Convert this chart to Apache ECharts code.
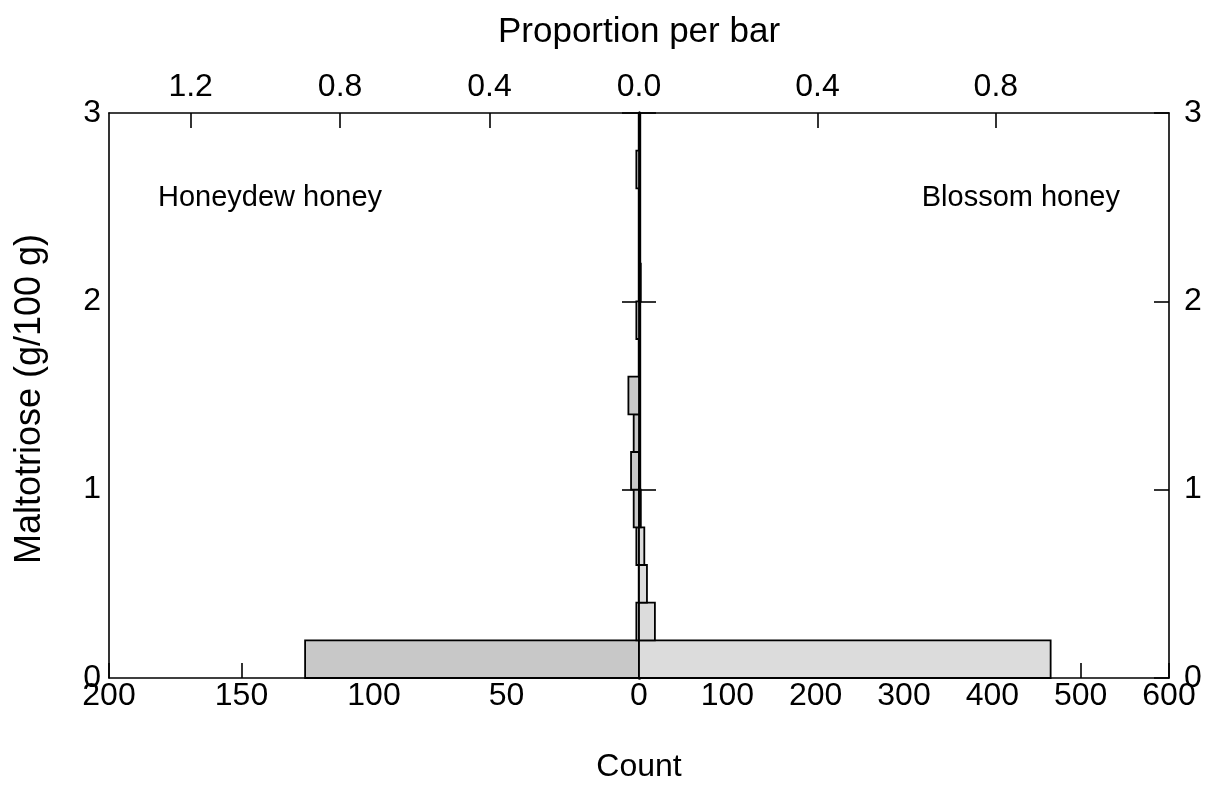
<!DOCTYPE html>
<html>
<head>
<meta charset="utf-8">
<script src="https://cdn.jsdelivr.net/npm/echarts@6/dist/echarts.min.js"></script>
<style>
  html, body { margin: 0; padding: 0; background: #ffffff; }
  #chart { width: 1218px; height: 786px; }
</style>
</head>
<body>
<div id="chart"></div>
<script>
// Maltotriose classes (g/100 g): lower edge of each 0.2-wide bin
const binLower = [0.0, 0.2, 0.4, 0.6, 0.8, 1.0, 1.2, 1.4, 1.6, 1.8, 2.0, 2.2, 2.4, 2.6];
const binWidth = 0.2;
// Number of samples per bin
const honeydewCounts = [126, 1, 0, 1, 2, 3, 2, 4, 0, 1, 0, 0, 0, 1];
const blossomCounts  = [466, 18, 9, 6, 2, 1, 0, 0, 1, 0, 2, 0, 0, 0];
// Axis ranges and tick steps
const leftCountMax = 200, leftCountStep = 50;
const rightCountMax = 600, rightCountStep = 100;
const propStep = 0.4;
const yMax = 3, yStep = 1;

const FONT = "'Liberation Sans', Arial, Helvetica, sans-serif";
const INK = '#000000';
const TICK_FONT = 32;
const TITLE_FONT = 32;

const total = arr => arr.reduce((a, b) => a + b, 0);
const honeydewTotal = total(honeydewCounts);
const blossomTotal = total(blossomCounts);

function binData(counts) {
  const out = [];
  counts.forEach((c, i) => { if (c > 0) out.push([c, binLower[i], binLower[i] + binWidth]); });
  return out;
}

function histRenderer(fill) {
  return function (params, api) {
    const a = api.coord([0, api.value(1)]);
    const b = api.coord([api.value(0), api.value(2)]);
    return {
      type: 'rect',
      shape: {
        x: Math.min(a[0], b[0]), y: Math.min(a[1], b[1]),
        width: Math.abs(b[0] - a[0]), height: Math.abs(b[1] - a[1])
      },
      style: { fill: fill, stroke: INK, lineWidth: 1.8 }
    };
  };
}

const lineStyle = { color: INK, width: 1.6 };
const labelStyle = { color: INK, fontSize: TICK_FONT, fontFamily: FONT };

function countAxis(grid, max, step, inverse, hideZero) {
  return {
    type: 'value', gridIndex: grid, position: 'bottom', min: 0, max: max, interval: step,
    inverse: inverse,
    axisLine: { show: true, onZero: false, lineStyle: lineStyle },
    axisTick: { show: true, inside: true, length: 15, lineStyle: lineStyle },
    axisLabel: Object.assign({ margin: 2, showMinLabel: !hideZero }, labelStyle),
    splitLine: { show: false }
  };
}

function propAxis(grid, n, countMax, inverse, hideZero) {
  return {
    type: 'value', gridIndex: grid, position: 'top', min: 0, max: countMax / n, interval: propStep,
    inverse: inverse,
    axisLine: { show: true, onZero: false, lineStyle: lineStyle },
    axisTick: { show: true, inside: true, length: 15, lineStyle: lineStyle },
    axisLabel: Object.assign({
      margin: 10, showMinLabel: !hideZero, showMaxLabel: false,
      formatter: v => v.toFixed(1)
    }, labelStyle),
    splitLine: { show: false }
  };
}

function yAxis(grid, position, opts) {
  return Object.assign({
    type: 'value', gridIndex: grid, position: position, min: 0, max: yMax, interval: yStep,
    splitLine: { show: false }
  }, opts);
}

const chart = echarts.init(document.getElementById('chart'), null, { renderer: 'canvas' });

chart.setOption({
  animation: false,
  backgroundColor: '#ffffff',
  grid: [
    { left: 109, top: 113, width: 530, height: 565 },
    { left: 639, top: 113, width: 530, height: 565 }
  ],
  xAxis: [
    countAxis(0, leftCountMax, leftCountStep, true, false),
    propAxis(0, honeydewTotal, leftCountMax, true, false),
    countAxis(1, rightCountMax, rightCountStep, false, true),
    propAxis(1, blossomTotal, rightCountMax, false, true)
  ],
  yAxis: [
    yAxis(0, 'left', {
      axisLine: { show: true, onZero: false, lineStyle: lineStyle },
      axisTick: { show: false },
      axisLabel: Object.assign({ margin: 8 }, labelStyle)
    }),
    yAxis(0, 'right', {
      axisLine: { show: true, onZero: false, lineStyle: { color: INK, width: 3.2 } },
      axisTick: { show: true, inside: true, length: 17, lineStyle: lineStyle },
      axisLabel: { show: false }
    }),
    yAxis(1, 'left', {
      axisLine: { show: true, onZero: false, lineStyle: { color: INK, width: 3.2 } },
      axisTick: { show: true, inside: true, length: 17, lineStyle: lineStyle },
      axisLabel: { show: false }
    }),
    yAxis(1, 'right', {
      axisLine: { show: true, onZero: false, lineStyle: lineStyle },
      axisTick: { show: true, inside: true, length: 15, lineStyle: lineStyle },
      axisLabel: Object.assign({ margin: 15 }, labelStyle)
    })
  ],
  series: [
    {
      name: 'Honeydew honey', type: 'custom', coordinateSystem: 'cartesian2d',
      xAxisIndex: 0, yAxisIndex: 0,
      renderItem: histRenderer('#c8c8c8'),
      encode: { x: 0, y: [1, 2] },
      data: binData(honeydewCounts), z: 1
    },
    {
      name: 'Blossom honey', type: 'custom', coordinateSystem: 'cartesian2d',
      xAxisIndex: 2, yAxisIndex: 3,
      renderItem: histRenderer('#dcdcdc'),
      encode: { x: 0, y: [1, 2] },
      data: binData(blossomCounts), z: 1
    }
  ],
  graphic: [
    { type: 'text', x: 639, y: 32,
      style: { text: 'Proportion per bar', fontSize: 35, fontFamily: FONT, fill: INK,
               align: 'center', verticalAlign: 'middle' } },
    { type: 'text', x: 639, y: 767,
      style: { text: 'Count', fontSize: TITLE_FONT, fontFamily: FONT, fill: INK,
               align: 'center', verticalAlign: 'middle' } },
    { type: 'text', x: 30, y: 399, rotation: Math.PI / 2,
      style: { text: 'Maltotriose (g/100 g)', fontSize: 36, fontFamily: FONT, fill: INK,
               align: 'center', verticalAlign: 'middle' } },
    { type: 'text', x: 158, y: 198,
      style: { text: 'Honeydew honey', fontSize: 29, fontFamily: FONT, fill: INK,
               align: 'left', verticalAlign: 'middle' } },
    { type: 'text', x: 1120, y: 198,
      style: { text: 'Blossom honey', fontSize: 29, fontFamily: FONT, fill: INK,
               align: 'right', verticalAlign: 'middle' } }
  ]
});
</script>
</body>
</html>
